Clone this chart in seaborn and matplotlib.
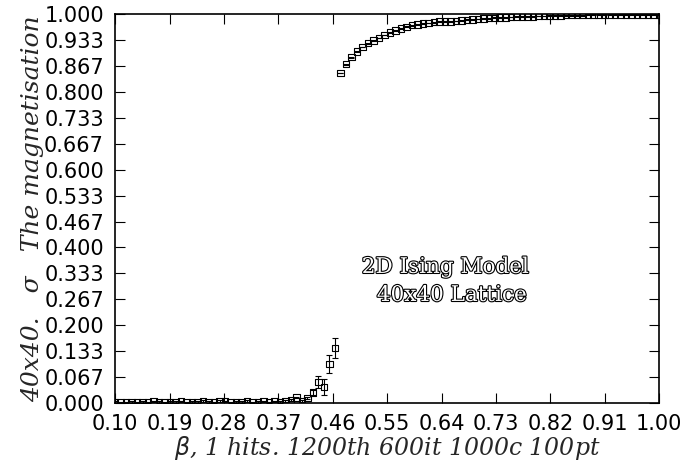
import numpy as np
import pandas as pd
import matplotlib
matplotlib.use('Agg')
import matplotlib.pyplot as plt
import matplotlib.patheffects as pe
import seaborn as sns

# beta grid: 100 points from 0.10 to 1.00
beta = np.linspace(0.10, 1.00, 100)

# disordered branch
m_low = [0.003, 0.002, 0.002, 0.003, 0.002, 0.003, 0.002, 0.004, 0.003, 0.002,
         0.003, 0.003, 0.004, 0.002, 0.003, 0.003, 0.005, 0.003, 0.002, 0.005,
         0.004, 0.002, 0.003, 0.003, 0.005, 0.002, 0.003, 0.004, 0.002, 0.004,
         0.003, 0.006, 0.008, 0.015, 0.005, 0.013, 0.028, 0.054, 0.042, 0.101,
         0.142]
err_low = [0.002] * 36 + [0.006, 0.016, 0.021, 0.024, 0.025]

# ordered branch
m_high = [0.848, 0.871, 0.889, 0.903, 0.915, 0.925, 0.932, 0.938, 0.946, 0.952,
          0.957, 0.963, 0.967, 0.971, 0.973, 0.975, 0.977, 0.979, 0.980, 0.981,
          0.981, 0.982, 0.983, 0.985, 0.986, 0.987, 0.988, 0.989, 0.990, 0.991,
          0.991, 0.992, 0.993, 0.993, 0.994, 0.994, 0.995, 0.995, 0.996, 0.996,
          0.996, 0.997, 0.997, 0.997, 0.997, 0.998, 0.998, 0.998, 0.998, 0.998,
          0.999, 0.999, 0.999, 0.999, 0.999, 0.999, 0.999, 0.999, 0.999]
err_high = [0.001] * len(m_high)

mag = m_low + m_high
err = err_low + err_high
df = pd.DataFrame({'beta': beta, 'm': mag, 'err': err})

sns.set_style('ticks')
plt.rcParams['font.family'] = ['DejaVu Sans']

fig = plt.figure(figsize=(6.81, 4.65), dpi=100)
ax = fig.add_axes([0.169, 0.133, 0.799, 0.837])

# error bars
ax.errorbar(df['beta'], df['m'], yerr=df['err'], fmt='none', ecolor='black',
            elinewidth=0.8, capsize=2.5, capthick=0.8, zorder=2)
# points
sns.scatterplot(data=df, x='beta', y='m', marker='s', s=22, facecolor='none',
                edgecolor='black', linewidth=0.8, ax=ax, zorder=3)

ax.set_xlim(0.10, 1.00)
ax.set_ylim(0.0, 1.0)
xt = np.arange(0.10, 1.001, 0.09)
yt = np.linspace(0, 1, 16)
ax.set_xticks(xt)
ax.set_xticklabels(['%.2f' % v for v in xt])
ax.set_yticks(yt)
ax.set_yticklabels(['%.3f' % v for v in yt])
ax.tick_params(direction='in', length=7, width=0.8, top=True, right=True,
               labelsize=15, pad=8, colors='black')

for s in ax.spines.values():
    s.set_visible(True)
    s.set_linewidth(1.2)
    s.set_color('black')

ax.set_xlabel(r'$\beta$, 1 hits. 1200th 600it 1000c 100pt', family='DejaVu Serif',
              style='italic', fontsize=17, labelpad=0)
ax.set_ylabel('40x40.   σ   The magnetisation', family='DejaVu Serif',
              style='italic', fontsize=18, labelpad=0)

outline = [pe.withStroke(linewidth=1.6, foreground='black')]
ax.text(0.508, 0.35, '2D Ising Model', family='DejaVu Serif', fontsize=15.5,
        color='white', va='center', path_effects=outline)
ax.text(0.533, 0.278, '40x40 Lattice', family='DejaVu Serif', fontsize=15.5,
        color='white', va='center', path_effects=outline)

fig.savefig('out.png', dpi=100)
